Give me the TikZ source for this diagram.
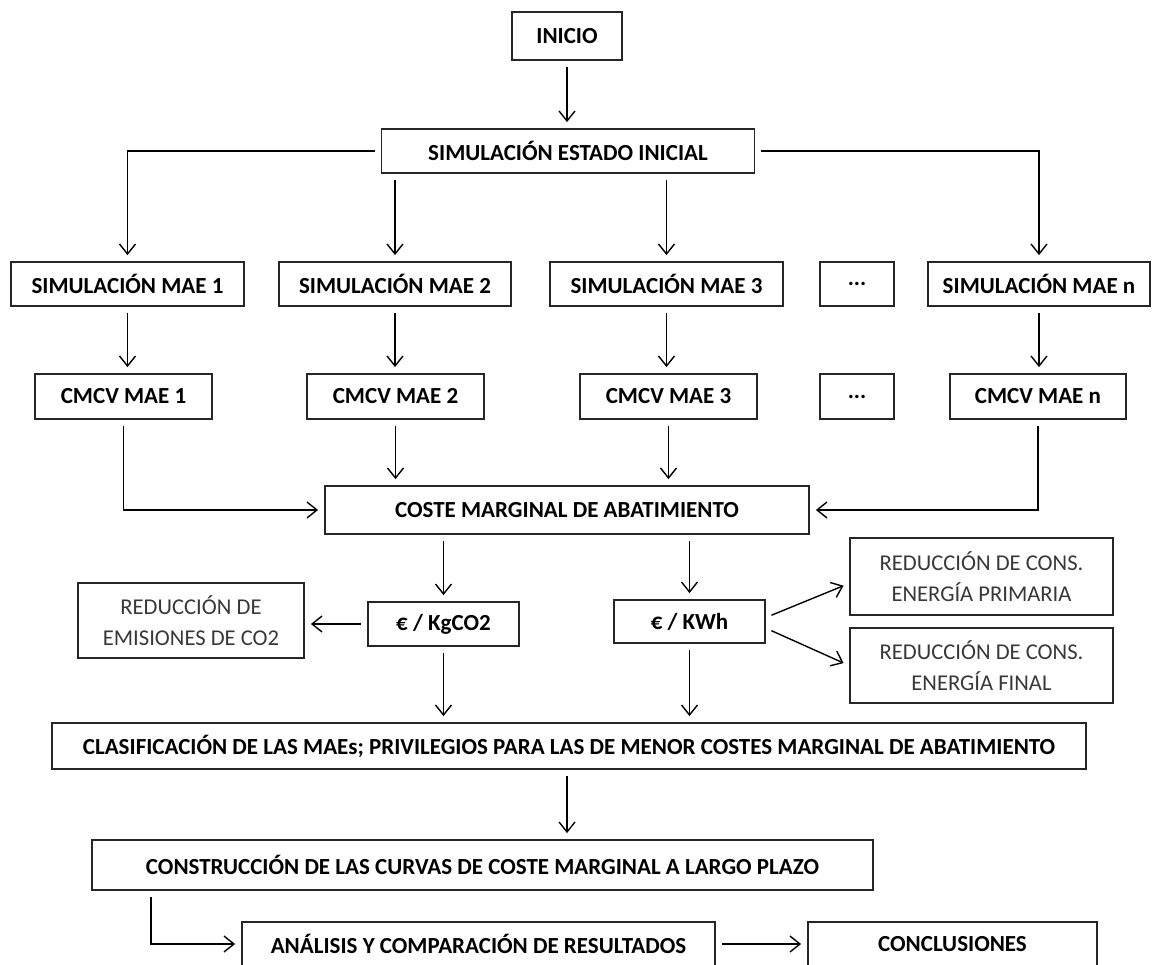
\documentclass[tikz,border=0pt]{standalone}
\usepackage{fontspec}
\setmainfont{Carlito}
\usetikzlibrary{arrows.meta}

\begin{document}
\begin{tikzpicture}[x=0.5pt,y=-0.5pt,
  box/.style={draw=black!85, line width=0.9pt, inner sep=0pt, align=center,
    font=\fontsize{11.5}{15}\selectfont\bfseries},
  redbox/.style={box, text=black!78, font=\fontsize{11.3}{15.5}\selectfont},
  arr/.style={-{Straight Barb[length=5pt,width=8pt]}, line width=0.7pt,
    shorten <=3pt, shorten >=3pt}]
\useasboundingbox (0,0) rectangle (1158,965);
\clip (0,0) rectangle (1158,965);
\node[box, minimum width=55pt, minimum height=24pt] (inicio) at (567,36) {INICIO};
\node[box, minimum width=186.5pt, minimum height=22pt] (sei) at (568,151) {SIMULACIÓN ESTADO INICIAL};
\node[box, minimum width=116.5pt, minimum height=22pt] (sim1) at (127.5,284) {SIMULACIÓN MAE 1};
\node[box, minimum width=116pt, minimum height=22pt] (sim2) at (395,284) {SIMULACIÓN MAE 2};
\node[box, minimum width=116.5pt, minimum height=22pt] (sim3) at (666.5,284) {SIMULACIÓN MAE 3};
\node[box, minimum width=37pt, minimum height=22pt] (simd) at (857,284) {...};
\node[box, minimum width=111pt, minimum height=22pt] (simn) at (1039,284) {SIMULACIÓN MAE n};
\node[box, minimum width=88.5pt, minimum height=22.5pt] (cm1) at (123.5,396.5) {CMCV MAE 1};
\node[box, minimum width=88.5pt, minimum height=22.5pt] (cm2) at (395.5,396.5) {CMCV MAE 2};
\node[box, minimum width=88.5pt, minimum height=22.5pt] (cm3) at (668.5,396.5) {CMCV MAE 3};
\node[box, minimum width=37pt, minimum height=22.5pt] (cmd) at (857,396.5) {...};
\node[box, minimum width=88pt, minimum height=22.5pt] (cmn) at (1038,396.5) {CMCV MAE n};
\node[box, minimum width=242pt, minimum height=24pt] (coste) at (567,510) {COSTE MARGINAL DE ABATIMIENTO};
\node[box, minimum width=75.5pt, minimum height=22pt] (kg) at (443.5,624) {€ / KgCO2};
\node[box, minimum width=75.5pt, minimum height=21.5pt] (kwh) at (689.5,621.5) {€ / KWh};
\node[redbox, minimum width=113pt, minimum height=37.5pt] (emis) at (191,620.5) {REDUCCIÓN DE\\EMISIONES DE CO2};
\node[redbox, minimum width=131.5pt, minimum height=38.5pt] (prim) at (981.5,576.5) {REDUCCIÓN DE CONS.\\ENERGÍA PRIMARIA};
\node[redbox, minimum width=131.5pt, minimum height=37.5pt] (fin) at (981.5,665.5) {REDUCCIÓN DE CONS.\\ENERGÍA FINAL};
\node[box, minimum width=517pt, minimum height=23pt] (clas) at (569,746) {CLASIFICACIÓN DE LAS MAEs; PRIVILEGIOS PARA LAS DE MENOR COSTES MARGINAL DE ABATIMIENTO};
\node[box, minimum width=390.5pt, minimum height=25pt] (cons) at (482.5,865) {CONSTRUCCIÓN DE LAS CURVAS DE COSTE MARGINAL A LARGO PLAZO};
\node[box, minimum width=236.5pt, minimum height=22pt] (anal) at (478.5,944) {ANÁLISIS Y COMPARACIÓN DE RESULTADOS};
\node[box, minimum width=144.5pt, minimum height=22pt] (concl) at (952.5,944) {CONCLUSIONES};
\coordinate (bend) at (151,946);
\draw[arr] (inicio.south) -- (inicio.south |- sei.north);
\draw[arr] (sei.west) -| (sim1.north);
\draw[arr] (sei.east) -| (simn.north);
\draw[arr] (sim2.north |- sei.south) -- (sim2.north);
\draw[arr] (sim3.north |- sei.south) -- (sim3.north);
\draw[arr] (sim1.south) -- (sim1.south |- cm1.north);
\draw[arr] (sim2.south) -- (sim2.south |- cm2.north);
\draw[arr] (sim3.south) -- (sim3.south |- cm3.north);
\draw[arr] (simn.south) -- (simn.south |- cmn.north);
\draw[arr] (cm1.south) |- (coste.west);
\draw[arr] (cmn.south) |- (coste.east);
\draw[arr] (cm2.south) -- (cm2.south |- coste.north);
\draw[arr] (cm3.south) -- (cm3.south |- coste.north);
\draw[arr] (kg.north |- coste.south) -- (kg.north);
\draw[arr] (kwh.north |- coste.south) -- (kwh.north);
\draw[arr] (kg.west) -- (kg.west -| emis.east);
\draw[arr] (kwh.3) -- (prim.183);
\draw[arr] (kwh.-5) -- (fin.west);
\draw[arr] (kg.south) -- (kg.south |- clas.north);
\draw[arr] (kwh.south) -- (kwh.south |- clas.north);
\draw[arr] (inicio.south |- clas.south) -- (inicio.south |- cons.north);
\draw[arr] (cons.south -| bend) |- (anal.west);
\draw[arr] (anal.east) -- (concl.west);
\end{tikzpicture}
\end{document}
